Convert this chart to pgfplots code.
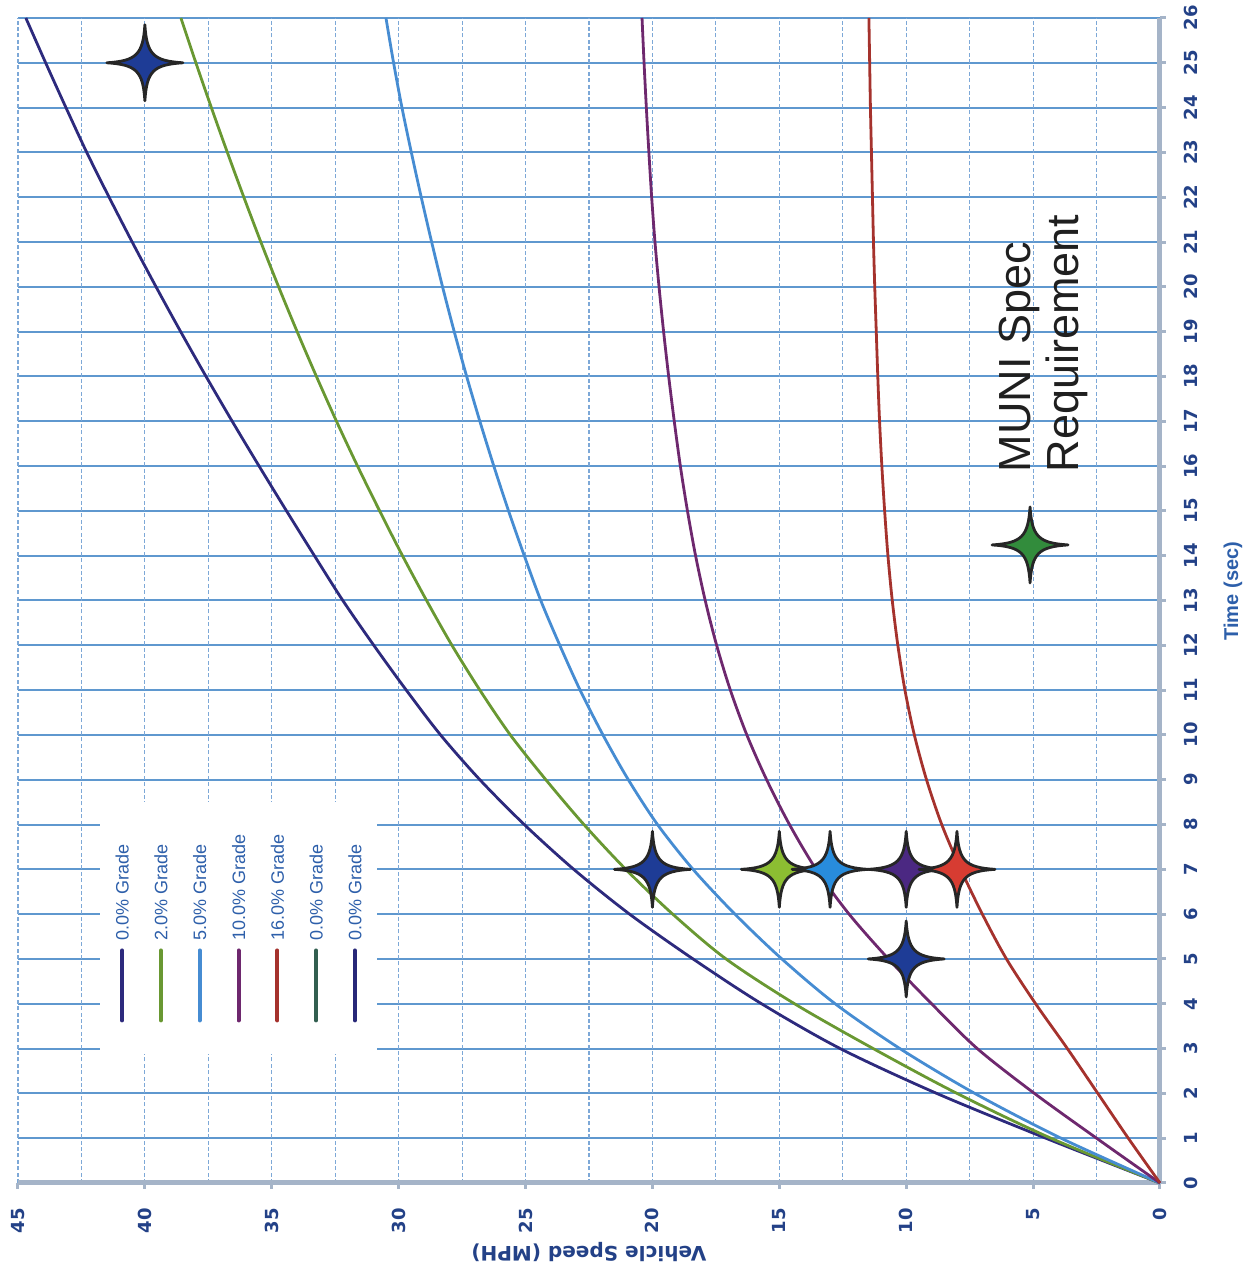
\documentclass[border=0pt]{standalone}
\usepackage{pgfplots}
\pgfplotsset{compat=1.18}
\usepackage{pgfplotstable}
\usepackage{graphicx}
\usepackage{fontspec}
\setmainfont{Liberation Sans}
\newfontfamily\dejavu{DejaVu Sans}
\usetikzlibrary{calc}

\definecolor{gridsolid}{RGB}{95,152,207}
\definecolor{griddash}{RGB}{125,168,215}
\definecolor{axisgray}{RGB}{165,180,200}
\definecolor{tickblue}{RGB}{35,65,135}
\definecolor{legendblue}{RGB}{45,95,170}
\definecolor{cnavy}{RGB}{45,42,125}
\definecolor{cgreen}{RGB}{105,152,50}
\definecolor{cblue}{RGB}{70,140,210}
\definecolor{cpurple}{RGB}{110,40,110}
\definecolor{cred}{RGB}{165,50,45}
\definecolor{cteal}{RGB}{50,95,80}
\definecolor{cnavyb}{RGB}{40,40,120}
\definecolor{snavy}{RGB}{30,60,150}
\definecolor{sgreen}{RGB}{140,190,50}
\definecolor{sblue}{RGB}{40,140,220}
\definecolor{spurple}{RGB}{75,40,130}
\definecolor{sred}{RGB}{215,60,50}
\definecolor{smuni}{RGB}{50,140,60}

% speed (mph) vs time (s) for each grade
\pgfplotstableread{
t  g0    g2    g5    g10   g16
0  0     0     0     0     0
1  4.5   4.3   3.9   2.5   1.25
2  8.8   8.0   7.3   4.95  2.45
3  12.6  11.3  10.25 7.2   3.65
4  15.7  14.4  12.8  9.0   4.9
5  18.4  17.1  14.9  10.7  6.05
6  20.9  19.2  16.75 12.25 7.0
7  23.1  21.05 18.4  13.55 7.85
8  25.05 22.7  19.8  14.6  8.6
9  26.8  24.2  20.95 15.5  9.2
10 28.35 25.6  21.95 16.28 9.68
11 29.7  26.8  22.85 16.93 10.05
12 30.98 27.9  23.65 17.47 10.33
13 32.2  28.9  24.4  17.92 10.55
14 33.32 29.85 25.05 18.3  10.72
15 34.42 30.75 25.67 18.62 10.85
16 35.5  31.62 26.25 18.9  10.96
17 36.56 32.45 26.8  19.14 11.05
18 37.59 33.24 27.32 19.36 11.12
19 38.59 34.0  27.81 19.56 11.18
20 39.56 34.73 28.27 19.74 11.24
21 40.5  35.43 28.7  19.9  11.29
22 41.41 36.1  29.11 20.03 11.33
23 42.29 36.75 29.5  20.14 11.37
24 43.11 37.38 29.87 20.24 11.41
25 43.91 37.99 30.2  20.33 11.44
26 44.69 38.58 30.5  20.41 11.47
}\speeds

% four-pointed star
\pgfdeclareplotmark{star4}{%
  \pgfpathmoveto{\pgfqpoint{0pt}{\pgfplotmarksize}}%
  \pgfpathcurveto{\pgfqpoint{0.05\pgfplotmarksize}{0.22\pgfplotmarksize}}{\pgfqpoint{0.22\pgfplotmarksize}{0.05\pgfplotmarksize}}{\pgfqpoint{\pgfplotmarksize}{0pt}}%
  \pgfpathcurveto{\pgfqpoint{0.22\pgfplotmarksize}{-0.05\pgfplotmarksize}}{\pgfqpoint{0.05\pgfplotmarksize}{-0.22\pgfplotmarksize}}{\pgfqpoint{0pt}{-\pgfplotmarksize}}%
  \pgfpathcurveto{\pgfqpoint{-0.05\pgfplotmarksize}{-0.22\pgfplotmarksize}}{\pgfqpoint{-0.22\pgfplotmarksize}{-0.05\pgfplotmarksize}}{\pgfqpoint{-\pgfplotmarksize}{0pt}}%
  \pgfpathcurveto{\pgfqpoint{-0.22\pgfplotmarksize}{0.05\pgfplotmarksize}}{\pgfqpoint{-0.05\pgfplotmarksize}{0.22\pgfplotmarksize}}{\pgfqpoint{0pt}{\pgfplotmarksize}}%
  \pgfpathclose
  \pgfusepathqfillstroke
}

\pgfplotsset{
  star/.style={only marks, mark=star4, mark size=19pt, forget plot,
    mark options={fill=#1, draw=black!85, line width=1.4pt, line join=round}},
}

\begin{document}
\rotatebox{90}{%
\begin{tikzpicture}
\begin{axis}[
    scale only axis,
    width=582.5pt, height=571pt,
    xmin=0, xmax=26, ymin=0, ymax=45,
    xtick={0,1,...,26},
    ytick={0,5,...,45},
    minor ytick={2.5,7.5,...,42.5},
    xmajorgrids=true, ymajorgrids=true, yminorgrids=true,
    x grid style={gridsolid, line width=1pt, solid},
    y grid style={griddash, line width=0.6pt, dash pattern=on 2pt off 1.2pt},
    axis x line*=bottom, axis y line*=left,
    axis line style={draw=axisgray, line width=2.5pt, -},
    tick align=outside,
    major tick length=3pt, minor tick length=0pt,
    tick style={draw=axisgray, line width=1.5pt},
    /pgf/number format/assume math mode=true,
    ticklabel style={font=\dejavu\bfseries\fontsize{9}{10}\selectfont, text=tickblue},
    xticklabel style={inner sep=0pt, yshift=-9pt},
    yticklabel style={inner sep=0pt, xshift=-9.5pt},
    xlabel={Time (sec)},
    ylabel={Vehicle Speed (MPH)},
    xlabel style={at={(rel axis cs:0.508,0)}, anchor=center, yshift=-36.5pt,
      font=\bfseries\fontsize{10}{12}\selectfont, text=legendblue},
    ylabel style={at={(rel axis cs:0,0.5)}, anchor=center, yshift=34.5pt,
      font=\dejavu\bfseries\fontsize{10}{12}\selectfont, text=tickblue},
    clip=false,
    legend style={
      at={(axis cs:2.86,41.8)}, anchor=north west,
      draw=none, fill=white,
      inner xsep=16pt, inner ysep=8pt,
      font=\fontsize{9}{10}\selectfont, text=legendblue,
      nodes={inner sep=0pt, text height=6.5pt, text depth=0pt},
      row sep=12.9pt,
      /tikz/every odd column/.append style={column sep=4pt},
    },
    legend cell align=left,
    legend image code/.code={\draw[#1, line width=2pt, line cap=round] (0pt,0pt) -- (35pt,0pt);},
]
\addplot[cnavy, line width=1.4pt, smooth] table[x=t, y=g0] {\speeds};
\addlegendentry{0.0\% Grade}
\addplot[cgreen, line width=1.4pt, smooth] table[x=t, y=g2] {\speeds};
\addlegendentry{2.0\% Grade}
\addplot[cblue, line width=1.4pt, smooth] table[x=t, y=g5] {\speeds};
\addlegendentry{5.0\% Grade}
\addplot[cpurple, line width=1.4pt, smooth] table[x=t, y=g10] {\speeds};
\addlegendentry{10.0\% Grade}
\addplot[cred, line width=1.4pt, smooth] table[x=t, y=g16] {\speeds};
\addlegendentry{16.0\% Grade}
\addlegendimage{cteal}
\addlegendentry{0.0\% Grade}
\addlegendimage{cnavyb}
\addlegendentry{0.0\% Grade}

% MUNI spec requirement points
\addplot[star=snavy] coordinates {(7,20) (5,10) (25,40)};
\addplot[star=sgreen] coordinates {(7,15)};
\addplot[star=sblue] coordinates {(7,13)};
\addplot[star=spurple] coordinates {(7,10)};
\addplot[star=sred] coordinates {(7,8)};
\addplot[star=smuni] coordinates {(14.24,5.12)};

\node[anchor=base west, inner sep=0pt, text=black!88, font=\fontsize{22.5}{24}\selectfont]
  at (axis cs:15.85,5.12) {MUNI Spec};
\node[anchor=base west, inner sep=0pt, text=black!88, font=\fontsize{22.5}{24}\selectfont]
  at (axis cs:15.85,3.23) {Requirement};
\end{axis}
\pgfresetboundingbox
\path[use as bounding box] ($(current axis.south west)+(-44.5pt,-47.5pt)$) rectangle ($(current axis.north east)+(9pt,9pt)$);
\end{tikzpicture}}
\end{document}
